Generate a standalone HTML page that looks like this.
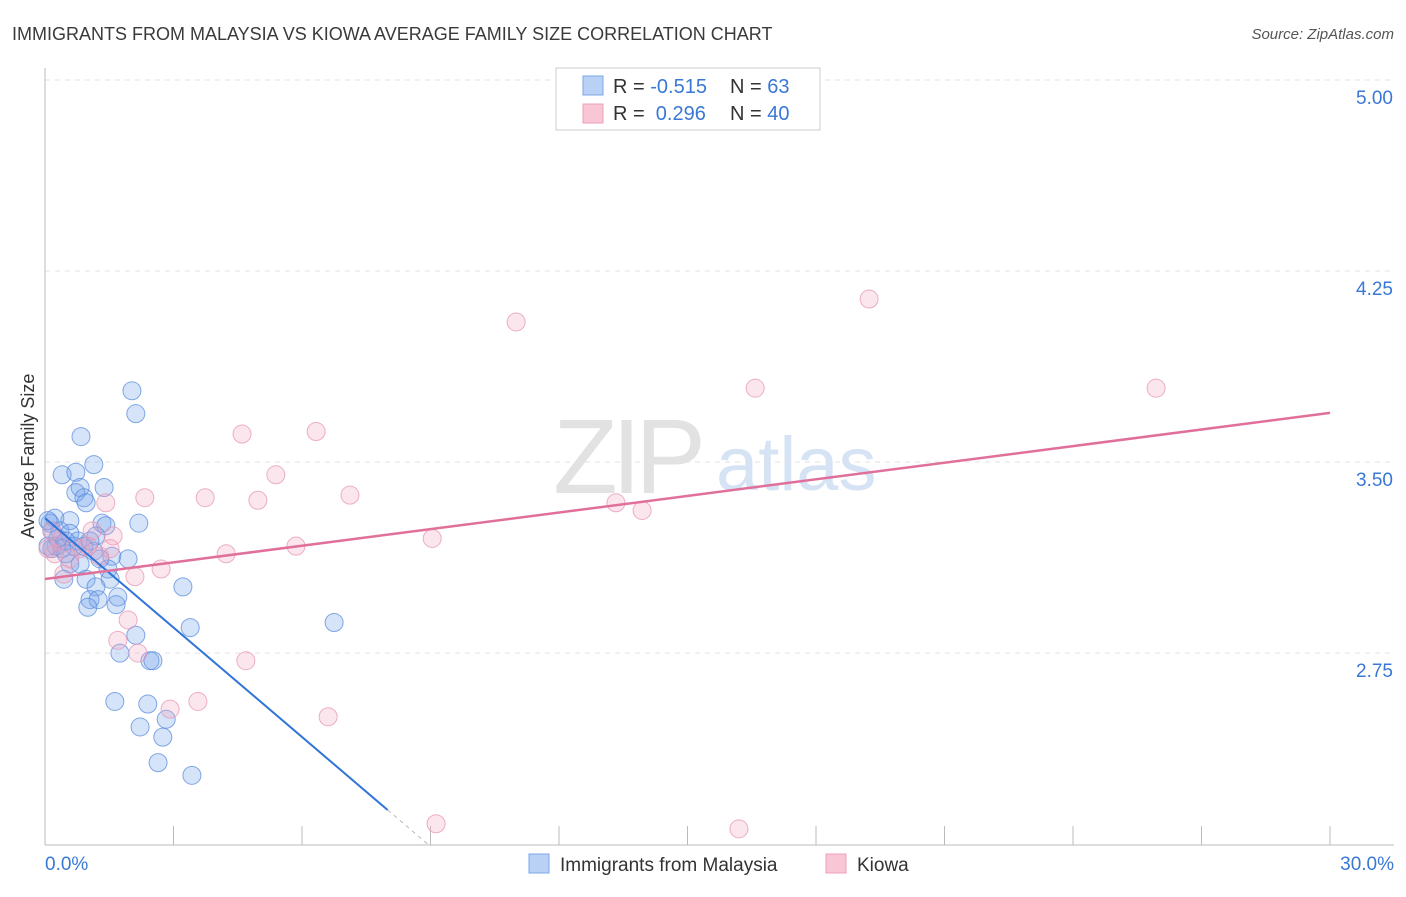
<!DOCTYPE html>
<html><head><meta charset="utf-8"><style>
body{margin:0;background:#fff;font-family:"Liberation Sans",sans-serif}
svg text{font-family:"Liberation Sans",sans-serif}
</style></head><body>
<svg id="chart" width="1406" height="892">
<text x="12" y="40" font-size="18" fill="#3a3a3a">IMMIGRANTS FROM MALAYSIA VS KIOWA AVERAGE FAMILY SIZE CORRELATION CHART</text>
<text x="1394" y="39" font-size="15" fill="#555" font-style="italic" text-anchor="end">Source: ZipAtlas.com</text>
<g>
<text x="553" y="493" font-size="106" font-family="Liberation Serif" fill="#e2e2e2" letter-spacing="-6">ZIP</text>
<text x="716" y="490" font-size="76" fill="#d6e3f4">atlas</text>
</g>
<g id="grid"></g>
<g id="axes"></g>
<g id="marks"></g>
<text transform="translate(34,456) rotate(-90)" font-size="18" fill="#333" text-anchor="middle">Average Family Size</text>
<g>
<rect x="556" y="68" width="264" height="62" fill="#fff" stroke="#ccc"/>
<rect x="583" y="76" width="20" height="19" fill="#b8d1f5" stroke="#7ea6e6"/>
<rect x="583" y="104" width="20" height="19" fill="#f9c6d6" stroke="#eca0b8"/>
<text x="613" y="93" font-size="20" fill="#333">R = <tspan fill="#3a78d6">-0.515</tspan></text>
<text x="730" y="93" font-size="20" fill="#333">N = <tspan fill="#3a78d6"> 63</tspan></text>
<text x="613" y="120" font-size="20" fill="#333" xml:space="preserve">R =  <tspan fill="#3a78d6">0.296</tspan></text>
<text x="730" y="120" font-size="20" fill="#333">N = <tspan fill="#3a78d6">40</tspan></text>
</g>
<g>
<rect x="529" y="854" width="20" height="19" fill="#b8d1f5" stroke="#7ea6e6"/>
<text x="560" y="871" font-size="19" fill="#333">Immigrants from Malaysia</text>
<rect x="826" y="854" width="20" height="19" fill="#f9c6d6" stroke="#eca0b8"/>
<text x="857" y="871" font-size="19" fill="#333">Kiowa</text>
</g>
</svg>
<script>
const yTicks=[5.00,4.25,3.50,2.75];
const yTickLabels=["5.00","4.25","3.50","2.75"];
const xTickLabels=["0.0%","30.0%"];
const blueX=[2.03,2.12,0.84,1.14,0.40,0.72,0.82,0.72,0.91,0.96,1.38,2.19,1.33,1.42,0.58,0.23,0.12,0.35,0.58,0.49,0.68,0.26,0.16,0.40,0.91,1.19,1.14,1.56,1.94,0.58,0.82,1.47,0.44,0.96,1.52,1.19,3.22,1.70,1.05,1.24,1.66,1.00,3.39,6.75,2.12,1.75,2.45,2.52,1.63,2.40,2.83,2.22,2.75,2.64,3.43,0.07,0.16,0.30,0.07,0.49,1.28,0.77,1.05];
const blueY=[3.78,3.69,3.60,3.49,3.45,3.46,3.40,3.38,3.36,3.34,3.40,3.26,3.26,3.25,3.27,3.28,3.26,3.23,3.22,3.19,3.17,3.17,3.16,3.16,3.17,3.21,3.15,3.13,3.12,3.10,3.10,3.08,3.04,3.04,3.04,3.01,3.01,2.97,2.96,2.96,2.94,2.93,2.85,2.87,2.82,2.75,2.72,2.72,2.56,2.55,2.49,2.46,2.42,2.32,2.27,3.27,3.23,3.20,3.17,3.14,3.12,3.19,3.19];
const pinkX=[11.00,19.24,16.58,25.94,4.60,6.33,5.39,7.12,3.74,2.33,4.97,1.42,13.33,13.94,9.04,5.86,4.23,2.71,2.10,1.59,1.10,0.82,1.28,0.58,0.23,0.07,1.94,1.70,2.17,4.69,2.92,3.57,6.61,9.13,16.20,1.00,0.35,1.52,0.44,0.16];
const pinkY=[4.05,4.14,3.79,3.79,3.61,3.62,3.45,3.37,3.36,3.36,3.35,3.34,3.34,3.31,3.20,3.17,3.14,3.08,3.05,3.21,3.23,3.16,3.13,3.12,3.14,3.16,2.88,2.80,2.75,2.72,2.53,2.56,2.50,2.08,2.06,3.17,3.19,3.16,3.06,3.23];
const blueTrend=[3.28,2.134];const blueTrendX=[0,8.0,9.0];
const pinkTrend=[3.041,3.693];
const NS="http://www.w3.org/2000/svg";
const xs=v=>45+v/30*1285;
const ys=v=>80+(5-v)*254.7;
function mk(tag,attrs,parent){const e=document.createElementNS(NS,tag);for(const k in attrs)e.setAttribute(k,attrs[k]);parent.appendChild(e);return e;}
const grid=document.getElementById('grid'),axes=document.getElementById('axes'),marks=document.getElementById('marks');
yTicks.forEach((t,i)=>{
 const l=mk('line',{x1:45,x2:1394,y1:ys(t),y2:ys(t),stroke:'#e2e2e2','stroke-dasharray':'5,5'},grid);
 
 
 const tx=mk('text',{x:1393,y:ys(t)+24,'font-size':19,fill:'#3a78d6','text-anchor':'end'},axes);
 tx.textContent=yTickLabels[i];
 
 
});
const xa=mk('line',{x1:45,x2:1394,y1:845,y2:845,stroke:'#bbb'},axes);


const ya=mk('line',{x1:45,x2:45,y1:68,y2:845,stroke:'#bbb'},axes);


for(let i=0;i<=10;i++){const t=mk('line',{x1:xs(i*3),x2:xs(i*3),y1:826,y2:845,stroke:'#bbb'},axes);
 
 }
[[0,'start',45],[30,'end',1394]].forEach((d,i)=>{const t=mk('text',{x:d[2],y:870,'font-size':19,fill:'#3a78d6','text-anchor':d[1]},axes);t.textContent=xTickLabels[i];
 
 });
blueX.forEach((x,i)=>{const c=mk('circle',{cx:xs(x),cy:ys(blueY[i]),r:9,fill:'rgba(120,165,235,0.3)',stroke:'rgba(90,140,220,0.75)','stroke-width':1},marks);
 
 });
pinkX.forEach((x,i)=>{const c=mk('circle',{cx:xs(x),cy:ys(pinkY[i]),r:9,fill:'rgba(245,165,195,0.28)',stroke:'rgba(230,150,180,0.75)','stroke-width':1},marks);
 
 });
const bslope=(blueTrend[1]-blueTrend[0])/blueTrendX[1];
const bl=mk('line',{x1:xs(0),y1:ys(blueTrend[0]),x2:xs(blueTrendX[1]),y2:ys(blueTrend[1]),stroke:'#2f74d8','stroke-width':2},marks);


const bd=mk('line',{x1:xs(blueTrendX[1]),y1:ys(blueTrend[1]),x2:xs(blueTrendX[2]),y2:ys(blueTrend[0]+bslope*blueTrendX[2]),stroke:'#bbb','stroke-width':1,'stroke-dasharray':'4,4'},marks);


const pl=mk('line',{x1:xs(0),y1:ys(pinkTrend[0]),x2:xs(30),y2:ys(pinkTrend[1]),stroke:'#e0709a','stroke-width':2.5},marks);


</script>
</body></html>
